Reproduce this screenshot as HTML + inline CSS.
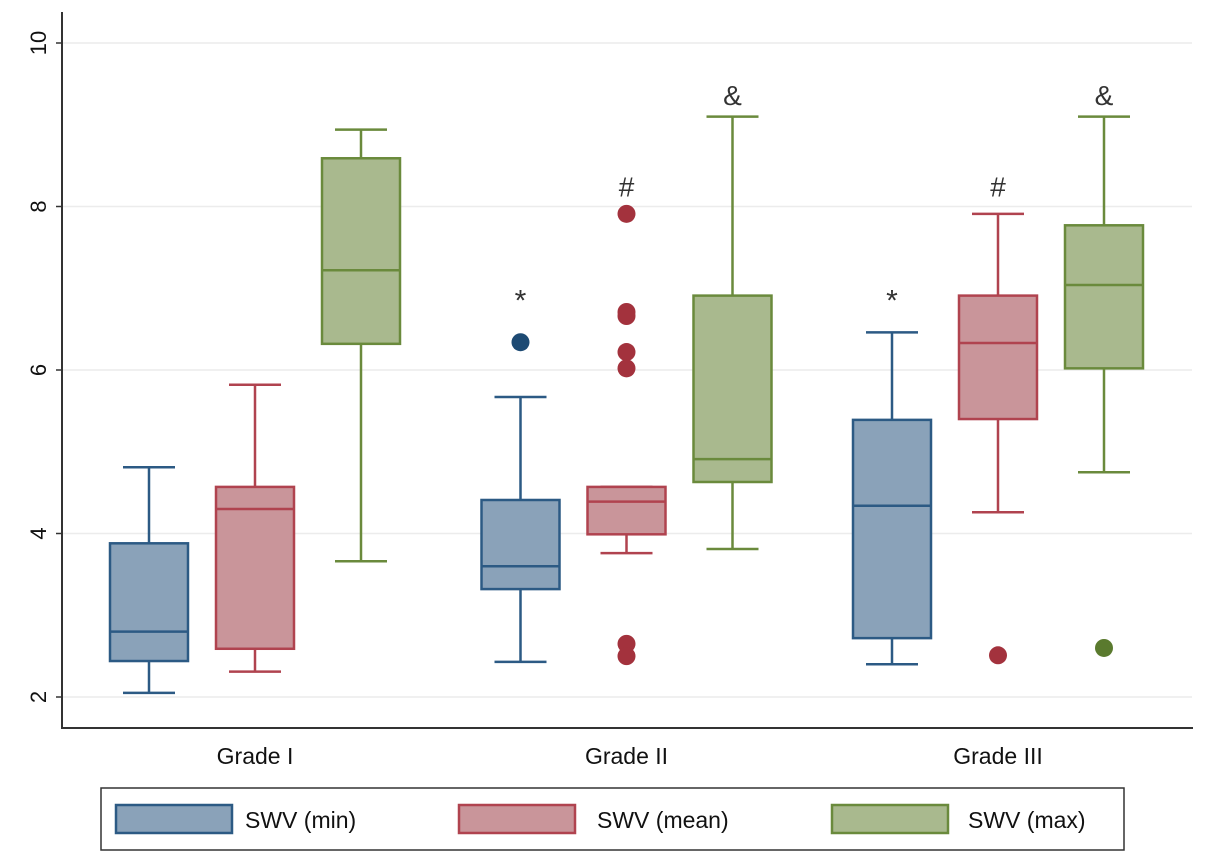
<!DOCTYPE html>
<html><head><meta charset="utf-8"><style>
body{margin:0;background:#fff;}
svg text{font-family:"Liberation Sans",Arial,sans-serif;}
</style></head><body>
<svg id="chart" width="1205" height="863" xmlns="http://www.w3.org/2000/svg">
<g id="grid"></g>
<g id="yticks"></g>
<g id="boxes"></g>
<line x1="62" y1="12" x2="62" y2="728" stroke="#333" stroke-width="2"/>
<line x1="61" y1="728" x2="1193" y2="728" stroke="#333" stroke-width="2"/>
<g id="xlabels"></g>
<g>
<rect x="101" y="788" width="1023" height="62" fill="#fff" stroke="#333" stroke-width="1.5"/>
<g><rect x="116" y="805" width="116" height="28" fill="#8aa2b9" stroke="#2c5a84" stroke-width="2.5"/><text x="245" y="828" font-size="23" fill="#111">SWV (min)</text></g>
<g><rect x="459" y="805" width="116" height="28" fill="#c9959a" stroke="#b0434f" stroke-width="2.5"/><text x="597" y="828" font-size="23" fill="#111">SWV (mean)</text></g>
<g><rect x="832" y="805" width="116" height="28" fill="#a9b98e" stroke="#6a8a3c" stroke-width="2.5"/><text x="968" y="828" font-size="23" fill="#111">SWV (max)</text></g>
</g>
</svg>
<script>
const categories = ["Grade I","Grade II","Grade III"];
const seriesNames = ["SWV (min)","SWV (mean)","SWV (max)"];
const yTicks = [2,4,6,8,10];
// [low whisker, Q1, median, Q3, high whisker] per group
const minStats = [[2.05,2.44,2.80,3.88,4.81],[2.43,3.32,3.60,4.41,5.67],[2.40,2.72,4.34,5.39,6.46]];
const meanStats = [[2.31,2.59,4.30,4.57,5.82],[3.76,3.99,4.39,4.57,4.57],[4.26,5.40,6.33,6.91,7.91]];
const maxStats = [[3.66,6.32,7.22,8.59,8.94],[3.81,4.63,4.91,6.91,9.10],[4.75,6.02,7.04,7.77,9.10]];
const minOutliers = [[],[6.34],[]];
const meanOutliers = [[],[7.91,6.71,6.66,6.22,6.02,2.65,2.50],[2.51]];
const maxOutliers = [[],[],[2.60]];
const markers = [["","*","*"],["","#","#"],["","&","&"]];
const markerLevels = [6.73, 8.12, 9.24];

const NS="http://www.w3.org/2000/svg";
function y(v){return 697-(v-2)*81.75;}
function groupX(i){return 255+i*371.5;}
function seriesX(g,s){return groupX(g)+(s-1)*106;}
function mk(tag,attrs,parent){const e=document.createElementNS(NS,tag);for(const k in attrs)e.setAttribute(k,attrs[k]);parent.appendChild(e);return e;}
const grid=document.getElementById('grid'),yt=document.getElementById('yticks'),bx=document.getElementById('boxes'),xl=document.getElementById('xlabels');
yTicks.forEach(t=>{
  const l=mk('line',{x1:63,x2:1192,y1:y(t),y2:y(t),stroke:'#ececec','stroke-width':1.5},grid);
  
  
  const tk=mk('line',{x1:56,x2:62,y1:y(t),y2:y(t),stroke:'#333','stroke-width':1.5},yt);
  
  
  const tx=mk('text',{x:0,y:0,'font-size':22,'text-anchor':'middle',fill:'#111',transform:`translate(46,${y(t)}) rotate(-90)`},yt);
  tx.textContent=t;
  
  
});
categories.forEach((c,i)=>{
  const t=mk('text',{x:groupX(i),y:764,'font-size':23,'text-anchor':'middle',fill:'#111'},xl);
  t.textContent=c;
  
  
});
const styles=[{fill:'#8aa2b9',stroke:'#2c5a84'},{fill:'#c9959a',stroke:'#b0434f'},{fill:'#a9b98e',stroke:'#6a8a3c'}];
const allStats=[minStats,meanStats,maxStats],allOut=[minOutliers,meanOutliers,maxOutliers];
const outColors=['#1d4a73','#a3323d','#5a7a2e'];
for(let s=0;s<3;s++)for(let g=0;g<3;g++){
  const st=allStats[s][g],cx=seriesX(g,s),st2=styles[s];
  const grp=mk('g',{},bx);
  
  
  const sw=2.5;
  mk('line',{x1:cx,x2:cx,y1:y(st[4]),y2:y(st[3]),stroke:st2.stroke,'stroke-width':sw},grp);
  mk('line',{x1:cx,x2:cx,y1:y(st[1]),y2:y(st[0]),stroke:st2.stroke,'stroke-width':sw},grp);
  mk('line',{x1:cx-26,x2:cx+26,y1:y(st[4]),y2:y(st[4]),stroke:st2.stroke,'stroke-width':sw},grp);
  mk('line',{x1:cx-26,x2:cx+26,y1:y(st[0]),y2:y(st[0]),stroke:st2.stroke,'stroke-width':sw},grp);
  mk('rect',{x:cx-39,y:y(st[3]),width:78,height:y(st[1])-y(st[3]),fill:st2.fill,stroke:st2.stroke,'stroke-width':sw},grp);
  mk('line',{x1:cx-39,x2:cx+39,y1:y(st[2]),y2:y(st[2]),stroke:st2.stroke,'stroke-width':sw},grp);
  allOut[s][g].forEach(v=>{
    const c=mk('circle',{cx:cx,cy:y(v),r:9,fill:outColors[s]},grp);
    
    
  });
  const m=markers[s][g];
  if(m){
    const t=mk('text',{x:cx,y:y(markerLevels[s]),'font-size':s===0?30:28,'text-anchor':'middle',fill:'#333','font-family':'Liberation Serif,serif'},grp);
    t.textContent=m;
    
    
  }
}
</script>
</body></html>
